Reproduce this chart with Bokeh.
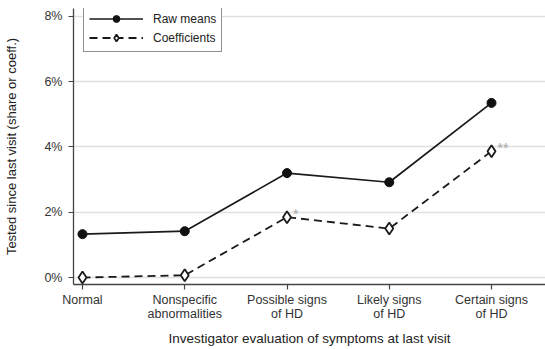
from bokeh.plotting import figure
from bokeh.models import FixedTicker, Range1d, Legend, LegendItem, ColumnDataSource
from bokeh.core.properties import value
from bokeh.embed import file_html
from bokeh.resources import INLINE

categories = ["Normal", "Nonspecific\nabnormalities", "Possible signs\nof HD", "Likely signs\nof HD", "Certain signs\nof HD"]
raw_means = [1.33, 1.42, 3.20, 2.92, 5.35]
coefficients = [0.0, 0.07, 1.85, 1.50, 3.87]
stars = ["", "", "*", "", "**"]
y_ticks = [0, 2, 4, 6, 8]

FONT = "Liberation Sans"
xs = list(range(len(categories)))

p = figure(width=545, height=349, output_backend="svg", toolbar_location=None,
           x_range=Range1d(-0.088, 4.528), y_range=Range1d(-0.213, 8.243),
           min_border_left=73, min_border_right=0, min_border_top=8, min_border_bottom=63)
p.outline_line_color = None
p.background_fill_color = "white"

p.xgrid.grid_line_color = None
p.ygrid.grid_line_color = "#e0e0e0"
p.ygrid.grid_line_width = 1.3
p.ygrid.ticker = FixedTicker(ticks=y_ticks)

p.xaxis.ticker = FixedTicker(ticks=xs)
p.xaxis.major_label_overrides = {i: c for i, c in enumerate(categories)}
p.yaxis.ticker = FixedTicker(ticks=y_ticks)
p.yaxis.major_label_overrides = {t: f"{t}%" for t in y_ticks}

for ax in (p.xaxis[0], p.yaxis[0]):
    ax.axis_line_color = "#444444"
    ax.axis_line_width = 1.3
    ax.major_tick_line_color = "#444444"
    ax.major_tick_line_width = 1.2
    ax.major_tick_out = 5
    ax.major_tick_in = 0
    ax.minor_tick_line_color = None
    ax.major_label_text_font = FONT
    ax.major_label_text_font_size = "12.5px"
    ax.major_label_text_color = "#333333"
    ax.axis_label_text_font = FONT
    ax.axis_label_text_font_style = "normal"
    ax.axis_label_text_color = "#222222"

p.xaxis.axis_label = "Investigator evaluation of symptoms at last visit"
p.xaxis.axis_label_text_font_size = "13.5px"
p.xaxis.axis_label_standoff = 7
p.xaxis.major_label_standoff = 3
p.xaxis.major_label_text_line_height = 1.05
p.yaxis.axis_label = "Tested since last visit (share or coeff.)"
p.yaxis.axis_label_text_font_size = "13px"
p.yaxis.axis_label_standoff = 22
p.yaxis.major_label_standoff = 6

src = ColumnDataSource(dict(x=xs, raw=raw_means, coef=coefficients, stars=stars))

l1 = p.line("x", "raw", source=src, line_color="#1a1a1a", line_width=1.7)
m1 = p.scatter("x", "raw", source=src, marker="circle", size=9, fill_color="#111111", line_color="#111111")
l2 = p.line("x", "coef", source=src, line_color="#1a1a1a", line_width=1.8, line_dash="8 5")
m2 = p.scatter("x", "coef", source=src, marker="diamond", size=12,
               fill_color="white", line_color="#1a1a1a", line_width=1.8)

p.text("x", "coef", text="stars", source=src, x_offset=6, y_offset=-3,
       text_font=value(FONT), text_font_size="14px", text_color="#a8a8a8",
       text_baseline="middle", text_align="left")

legend = Legend(items=[LegendItem(label="Raw means", renderers=[l1, m1]),
                       LegendItem(label="Coefficients", renderers=[l2, m2])],
                location=(10, 232))
legend.border_line_color = "#222222"
legend.border_line_width = 1.2
legend.label_text_font = FONT
legend.label_text_font_size = "12px"
legend.label_text_color = "#222222"
legend.glyph_width = 54
legend.glyph_height = 17
legend.label_height = 17
legend.spacing = 2
legend.padding = 5
legend.margin = 0
legend.label_standoff = 10
legend.background_fill_alpha = 1
p.add_layout(legend)

open("out.html", "w").write(file_html(p, INLINE))
